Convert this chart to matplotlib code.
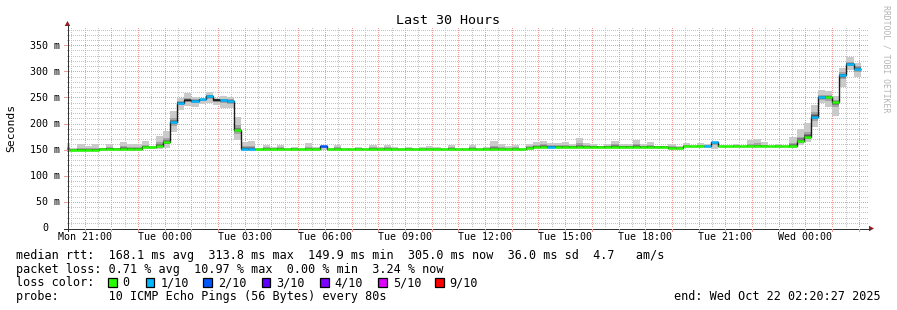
import matplotlib
matplotlib.use("Agg")
import matplotlib.pyplot as plt
import numpy as np
from matplotlib.patches import Rectangle, Polygon

# ---------------- data ----------------
title = "Last 30 Hours"
ylabel = "Seconds"
start_hour = 20 + 20 / 60 + 27 / 3600      # Mon 20:20:27, hours since Mon 00:00
span_hours = 30
first_bin_hour = 20.2                      # Mon 20:12
bin_minutes = 16

median_ms = [
    150.0, 149.9, 150.0, 150.0, 150.0, 152.0, 152.0, 152.0, 152.0, 152.0,
    152.0, 155.0, 155.0, 157.5, 164.0, 203.0, 240.0, 245.0, 244.0, 246.5,
    252.0, 246.0, 244.5, 243.5, 187.0, 152.0, 151.5, 151.5, 151.5, 151.5,
    151.5, 151.5, 151.5, 151.5, 151.5, 151.5, 157.0, 151.5, 151.5, 151.5,
    151.5, 151.5, 151.5, 151.5, 151.5, 151.5, 151.5, 151.5, 151.5, 151.5,
    151.5, 151.5, 151.5, 151.5, 151.5, 151.5, 151.5, 151.5, 151.5, 151.5,
    151.5, 151.5, 151.5, 151.5, 151.5, 153.5, 156.0, 156.0, 156.0, 156.0,
    156.0, 156.0, 156.0, 156.0, 156.0, 156.0, 156.0, 156.0, 156.0, 156.0,
    156.0, 156.0, 156.0, 156.0, 156.0, 153.5, 153.5, 156.5, 156.5, 156.5,
    156.5, 164.0, 156.5, 156.5, 156.5, 156.5, 156.5, 156.5, 156.5, 156.5,
    156.5, 156.5, 157.0, 166.5, 175.0, 213.0, 250.0, 251.0, 241.0, 293.0,
    313.8, 305.0,
]

smoke_hi_ms = [
    163, 154, 160, 158, 160, 154, 160, 154, 164, 160,
    160, 166, 157, 175.6, 186, 224, 249.7, 258, 251.5, 248,
    260.5, 249.6, 253, 251.5, 212, 164.7, 167, 153, 159.6, 156,
    159.6, 153, 156, 153, 163, 156, 158, 153, 159.6, 153,
    153, 156, 153, 159.6, 156, 159.6, 156, 153, 156, 153,
    155, 157.6, 155, 153, 159.6, 153, 153, 159.6, 153, 156,
    167, 161.5, 157.6, 159.6, 153, 161.5, 164, 167, 163, 163,
    164, 160, 172, 163, 160, 157, 160, 167, 160, 161,
    169, 160, 164, 158, 158, 161.5, 158, 163, 158, 163,
    160, 165, 157, 158, 161, 158, 169, 171, 164, 158,
    161, 158, 173.7, 189, 200.5, 235.6, 264, 263, 253, 306,
    327, 317,
]

smoke_lo_ms = [
    148.5, 148.4, 148.5, 148.5, 148.5, 150.5, 150.5, 150.5, 150.5, 150.5,
    150.5, 153.5, 153.5, 152, 154, 184.5, 226, 233.7, 231, 237,
    239, 235.6, 229, 229, 168.6, 150.5, 150, 150, 150, 150,
    150, 150, 150, 150, 150, 150, 150, 150, 150, 150,
    150, 150, 150, 150, 150, 150, 150, 150, 150, 150,
    150, 150, 150, 150, 150, 150, 150, 150, 150, 150,
    150, 150, 150, 150, 150, 152, 154.5, 154.5, 154.5, 154.5,
    154.5, 154.5, 154.5, 154.5, 154.5, 154.5, 154.5, 154.5, 154.5, 154.5,
    154.5, 154.5, 154.5, 154.5, 154.5, 152, 150.5, 155, 155, 155,
    155, 151, 155, 155, 155, 155, 155, 155, 155, 155,
    155, 155, 152.7, 159, 165, 193, 239, 232, 214.5, 270.7,
    302.7, 290,
]

# loss colour index per bin (-1 = not classified, black only)
loss_level = [
    0, 0, 0, 0, 0, 0, 0, 0, 0, 0,
    0, 0, 0, 0, 0, 1, 1, -1, 1, 1,
    1, -1, 1, 1, 0, 1, 1, 0, 0, 0,
    0, 0, 0, 0, 0, 0, 2, 0, 0, 0,
    0, 0, 0, 0, 0, 0, 0, 0, 0, 0,
    0, 0, 0, 0, 0, 0, 0, 0, 0, 0,
    0, 0, 0, 0, 0, 0, 0, 0, 1, 0,
    0, 0, 0, 0, 0, 0, 0, 0, 0, 0,
    0, 0, 0, 0, 0, 0, 0, 0, 0, 0,
    1, 1, 0, 0, 0, 0, 0, 0, 0, 0,
    0, 0, 0, 0, 0, 1, 1, 0, 0, 1,
    1, 1,
]

loss_labels = ["0", "1/10", "2/10", "3/10", "4/10", "5/10", "9/10"]
loss_colors = ["#26ff00", "#00b8ff", "#0059ff", "#5e00ff", "#7e00ff", "#dd00ff", "#ff0000"]

xtick_hours = [21, 24, 27, 30, 33, 36, 39, 42, 45, 48]
xtick_labels = ["Mon 21:00", "Tue 00:00", "Tue 03:00", "Tue 06:00", "Tue 09:00",
                "Tue 12:00", "Tue 15:00", "Tue 18:00", "Tue 21:00", "Wed 00:00"]
ytick_values = [0, 50, 100, 150, 200, 250, 300, 350]
ytick_labels = ["0", "50 m", "100 m", "150 m", "200 m", "250 m", "300 m", "350 m"]
y_max = 385

stats_rows = [
    "median rtt:  168.1 ms avg  313.8 ms max  149.9 ms min  305.0 ms now  36.0 ms sd  4.7   am/s",
    "packet loss: 0.71 % avg  10.97 % max  0.00 % min  3.24 % now",
    "loss color:",
    "probe:       10 ICMP Echo Pings (56 Bytes) every 80s",
]
end_text = "end: Wed Oct 22 02:20:27 2025"
watermark = "RRDTOOL / TOBI OETIKER"

# ---------------- layout / style ----------------
W, H, DPI = 897, 310, 100
PL, PR, PT, PB = 67, 868, 27, 228          # plot box in pixels
MONO = "DejaVu Sans Mono"
smoke_colors = ["#cacaca", "#a4a4a4", "#7e7e7e", "#585858", "#323232"]
smoke_fracs = [1.0, 0.38, 0.22, 0.11, 0.04]
grid_minor = "#c4c4c4"
grid_major = "#f09a9a"

fig = plt.figure(figsize=(W / DPI, H / DPI), dpi=DPI, facecolor="white")
ax = fig.add_axes([PL / W, (H - PB) / H, (PR - PL) / W, (PB - PT) / H])
ax.set_xlim(start_hour, start_hour + span_hours)
ax.set_ylim(0, y_max)
ax.axis("off")

# grid (dotted)
dot = (0, (1, 2))
gkw = dict(lw=0.72, ls=dot, antialiased=False)
for h in np.arange(np.ceil(start_hour * 2) / 2, start_hour + span_hours, 0.5):
    if abs(h - round(h)) > 1e-6:
        ax.axvline(h, color=grid_minor, zorder=1, **gkw)
for v in range(10, y_max, 10):
    if v % 50:
        ax.axhline(v, color=grid_minor, zorder=1, **gkw)
for h in range(int(np.ceil(start_hour)), int(start_hour + span_hours) + 1):
    ax.axvline(h, color=grid_major, zorder=2, **gkw)
for v in range(50, y_max, 50):
    ax.axhline(v, color=grid_major, zorder=2, **gkw)

# bins
med = np.array(median_ms)
hi = np.array(smoke_hi_ms)
lo = np.array(smoke_lo_ms)
n = len(med)
edges = first_bin_hour + np.arange(n + 1) * bin_minutes / 60.0
bw = bin_minutes / 60.0

# smoke
for c, f in zip(smoke_colors, smoke_fracs):
    b = med - (med - lo) * f
    t = med + (hi - med) * f
    ax.bar(edges[:-1], t - b, width=bw, bottom=b, align="edge",
           color=c, linewidth=0, zorder=3)

# median line
ax.stairs(med, edges, baseline=None, color="#1a1a1a", lw=1.0, zorder=4)
lvl = np.array(loss_level)
for i, c in enumerate(loss_colors):
    m = lvl == i
    if m.any():
        ax.hlines(med[m], edges[:-1][m], edges[1:][m], colors=c, lw=1.8,
                  zorder=5, capstyle="butt")

# ---------------- overlay in pixel coordinates ----------------
ov = fig.add_axes([0, 0, 1, 1], zorder=10)
ov.set_xlim(0, W)
ov.set_ylim(H, 0)
ov.axis("off")
ov.patch.set_alpha(0)


def px(h, v):
    d = ax.transData.transform((h, v))
    return d[0], H - d[1]


# axes
axis_c = "#333333"
ov.plot([PL + 0.5, PL + 0.5], [PB + 3, PT - 2], color=axis_c, lw=0.72,
        solid_capstyle="butt", antialiased=False)
ov.plot([PL - 3, PR + 2], [PB + 0.5, PB + 0.5], color=axis_c, lw=0.72,
        solid_capstyle="butt", antialiased=False)
arrow_c = "#9b1c1c"
ov.add_patch(Polygon([[PL + 0.5 - 2.8, PT - 1], [PL + 0.5 + 2.8, PT - 1], [PL + 0.5, PT - 6]],
                     closed=True, color=arrow_c, lw=0))
ov.add_patch(Polygon([[PR + 1, PB + 0.5 - 2.8], [PR + 1, PB + 0.5 + 2.8], [PR + 6, PB + 0.5]],
                     closed=True, color=arrow_c, lw=0))

# tick marks
for h in range(int(np.ceil(start_hour)), int(start_hour + span_hours) + 1):
    x, _ = px(h, 0)
    ov.plot([x, x], [PB + 1, PB + 3], color=grid_major, lw=0.72, antialiased=False)
for v in ytick_values[1:]:
    _, y = px(start_hour, v)
    ov.plot([PL - 3, PL], [y, y], color=grid_major, lw=0.72, antialiased=False)

# tick labels
for h, lab in zip(xtick_hours, xtick_labels):
    x, _ = px(h, 0)
    ov.text(x, 240.5, lab, family=MONO, fontsize=7.2, ha="center", va="baseline")
for v, lab in zip(ytick_values, ytick_labels):
    _, y = px(start_hour, v)
    xr = 60.5 if v else 48.5
    ov.text(xr, y + 3.4, lab, family=MONO, fontsize=7.2, ha="right", va="baseline")

# titles
ov.text(448, 23.5, title, family=MONO, fontsize=9.6, ha="center", va="baseline")
ov.text(11, 128, ylabel, family=MONO, fontsize=8.2, ha="center", va="center", rotation=90)
ov.text(886, 5, watermark, family=MONO, fontsize=5.9, ha="center", va="top",
        rotation=270, color="#b4b4b4")

# legend rows
baselines = [258.7, 272.6, 286.5, 300.4]
for txt, yb in zip(stats_rows, baselines):
    ov.text(15.5, yb, txt, family=MONO, fontsize=8.5, ha="left", va="baseline")
ov.text(881, baselines[3], end_text, family=MONO, fontsize=8.5, ha="right", va="baseline")

box_x = [108, 145.7, 203.3, 261.7, 320, 378.3, 435]
for bx, lab, c in zip(box_x, loss_labels, loss_colors):
    ov.add_patch(Rectangle((bx, 278.3), 8.6, 8.6, facecolor=c, edgecolor="black", lw=0.9))
    ov.text(bx + 14.5, baselines[2], lab, family=MONO, fontsize=8.5, ha="left", va="baseline")

fig.savefig("out.png", dpi=DPI, facecolor="white")
